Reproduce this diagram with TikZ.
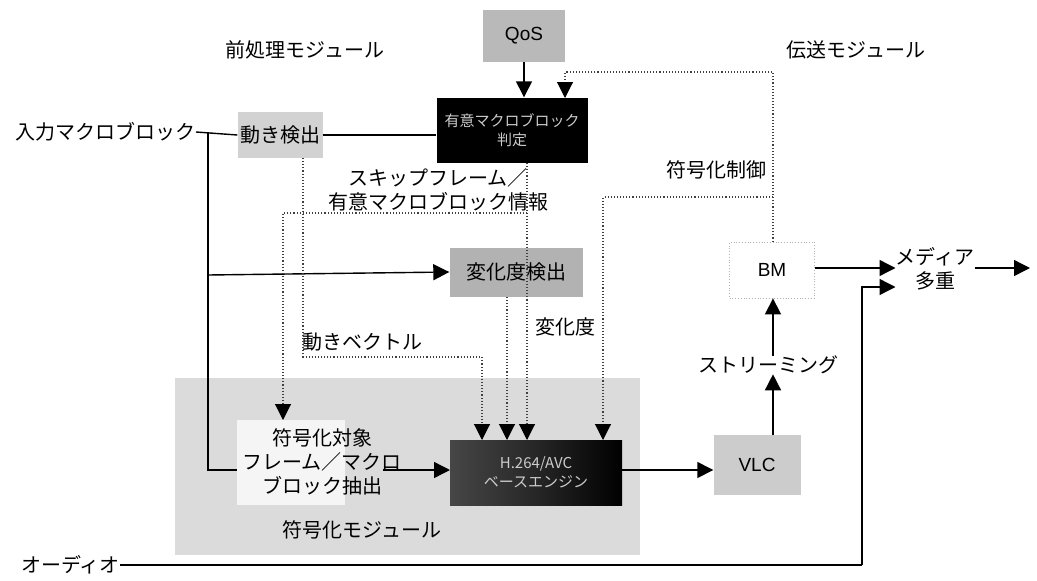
\documentclass[tikz,border=0pt]{standalone}
\usepackage{fontspec}
\setmainfont{Liberation Sans}
\newfontfamily\jp{Noto Sans CJK JP}
\usetikzlibrary{arrows.meta,calc}
\begin{document}
\begin{tikzpicture}[x=1pt,y=-1pt,
  lbl/.style={font=\jp\fontsize{20}{24}\selectfont, inner sep=0pt, align=center},
  box/.style={draw=none, inner sep=0pt, align=center, font=\jp\fontsize{20}{24}\selectfont},
  arr/.style={line width=1.4pt, -{Triangle[length=16pt,width=16pt]}},
  ln/.style={line width=1.4pt},
  dot/.style={line width=1.1pt, dotted, draw=black!75},
  darr/.style={dot, -{Triangle[length=16pt,width=16pt,color=black]}}
]
\useasboundingbox (0,0) rectangle (1037,581);
% encoding module background
\fill[gray!28] (175,378) rectangle (640,555);
% boxes
\node[box, fill=gray!55, minimum width=82, minimum height=52, font=\fontsize{19}{22}\selectfont] (qos) at (524,36) {QoS};
\node[box, fill=black, text=gray!40, minimum width=151, minimum height=65, font=\jp\fontsize{15}{19}\selectfont] (judge) at (512,130) {有意マクロブロック\\判定};
\node[box, fill=gray!35, minimum width=85, minimum height=46] (motion) at (280,135) {動き検出};
\node[box, fill=gray!60, minimum width=133, minimum height=49] (change) at (516,272) {変化度検出};
\node[box, fill=gray!8, minimum width=108, minimum height=85] (tgtbg) at (291,462) {};
\node[lbl] (tgt) at (322,462) {符号化対象\\フレーム／マクロ\\ブロック抽出};
\shade[left color=gray!55!black, right color=black, middle color=black!85] (450,440) rectangle (622,505);
\node[box, minimum width=172, minimum height=65, text=gray!40, font=\jp\fontsize{15}{19}\selectfont] (enc) at (536,472) {H.264/AVC\\ベースエンジン};
\node[box, fill=gray!40, minimum width=87, minimum height=60, font=\fontsize{19}{22}\selectfont] (vlc) at (757,465) {VLC};
\node[box, draw=gray!60, dotted, line width=0.8pt, minimum width=85, minimum height=56, font=\fontsize{19}{22}\selectfont] (bm) at (772,270) {BM};
\node[box, minimum width=70, minimum height=62] (mux) at (935,269) {メディア\\多重};
\node[lbl] (stream) at (768,365) {ストリーミング};
% labels
\node[lbl] (tpre) at (305,50) {前処理モジュール};
\node[lbl] (ttx) at (856,50) {伝送モジュール};
\node[lbl, anchor=east] (inp) at (196,132) {入力マクロブロック};
\node[lbl] (skip) at (438,190) {スキップフレーム／\\有意マクロブロック情報};
\node[lbl] (ctrl) at (716,170) {符号化制御};
\node[lbl] (mvl) at (362,342) {動きベクトル};
\node[lbl] (chg) at (565,327) {変化度};
\node[lbl] (tenc) at (362,530) {符号化モジュール};
\node[lbl, anchor=east] (aud) at (120,565) {オーディオ};
% coordinates
\coordinate (j1) at (208,132);
\coordinate (j2) at (208,275);
\coordinate (j3) at (208,470);
\coordinate (out) at (1030,268);
\coordinate (a1) at (862,565);
\coordinate (sx) at (773,0);
% solid connectors
\draw[ln] (inp.east) -- (motion.west);
\draw[ln] (j1) -- (j3) -- (tgtbg.west |- j3);
\draw[arr] (j2) -- (change.west);
\draw[ln] (motion.east) -- (judge.west |- motion.east);
\draw[arr] (qos.south) -- (qos.south |- judge.north);
\draw[arr] (383,470) -- (450,470);
\draw[arr] (622,470) -- (vlc.west |- 0,470);
\draw[arr] (sx |- vlc.north) -- (sx |- stream.south);
\draw[arr] (sx |- stream.north) -- (sx |- bm.south);
\draw[arr] (bm.east |- 0,268) -- (mux.west |- 0,268);
\draw[arr] (mux.east |- out) -- (out);
\draw[ln] (aud.east) -- (a1);
\draw[arr] (a1) -- (862,287) -- (mux.west |- 0,287);
% dotted connectors
\draw[darr] (sx |- bm.north) -- (773,72) -- (565,72) -- (565,98);
\draw[darr] (773,197) -- (603,197) -- (603,440);
\draw[darr] (527,163) -- (527,440);
\draw[darr] (527,213) -- (283,213) -- (283,420);
\draw[darr] (303,158) -- (303,357) -- (482,357) -- (482,440);
\draw[darr] (507,297) -- (507,440);
\end{tikzpicture}
\end{document}
